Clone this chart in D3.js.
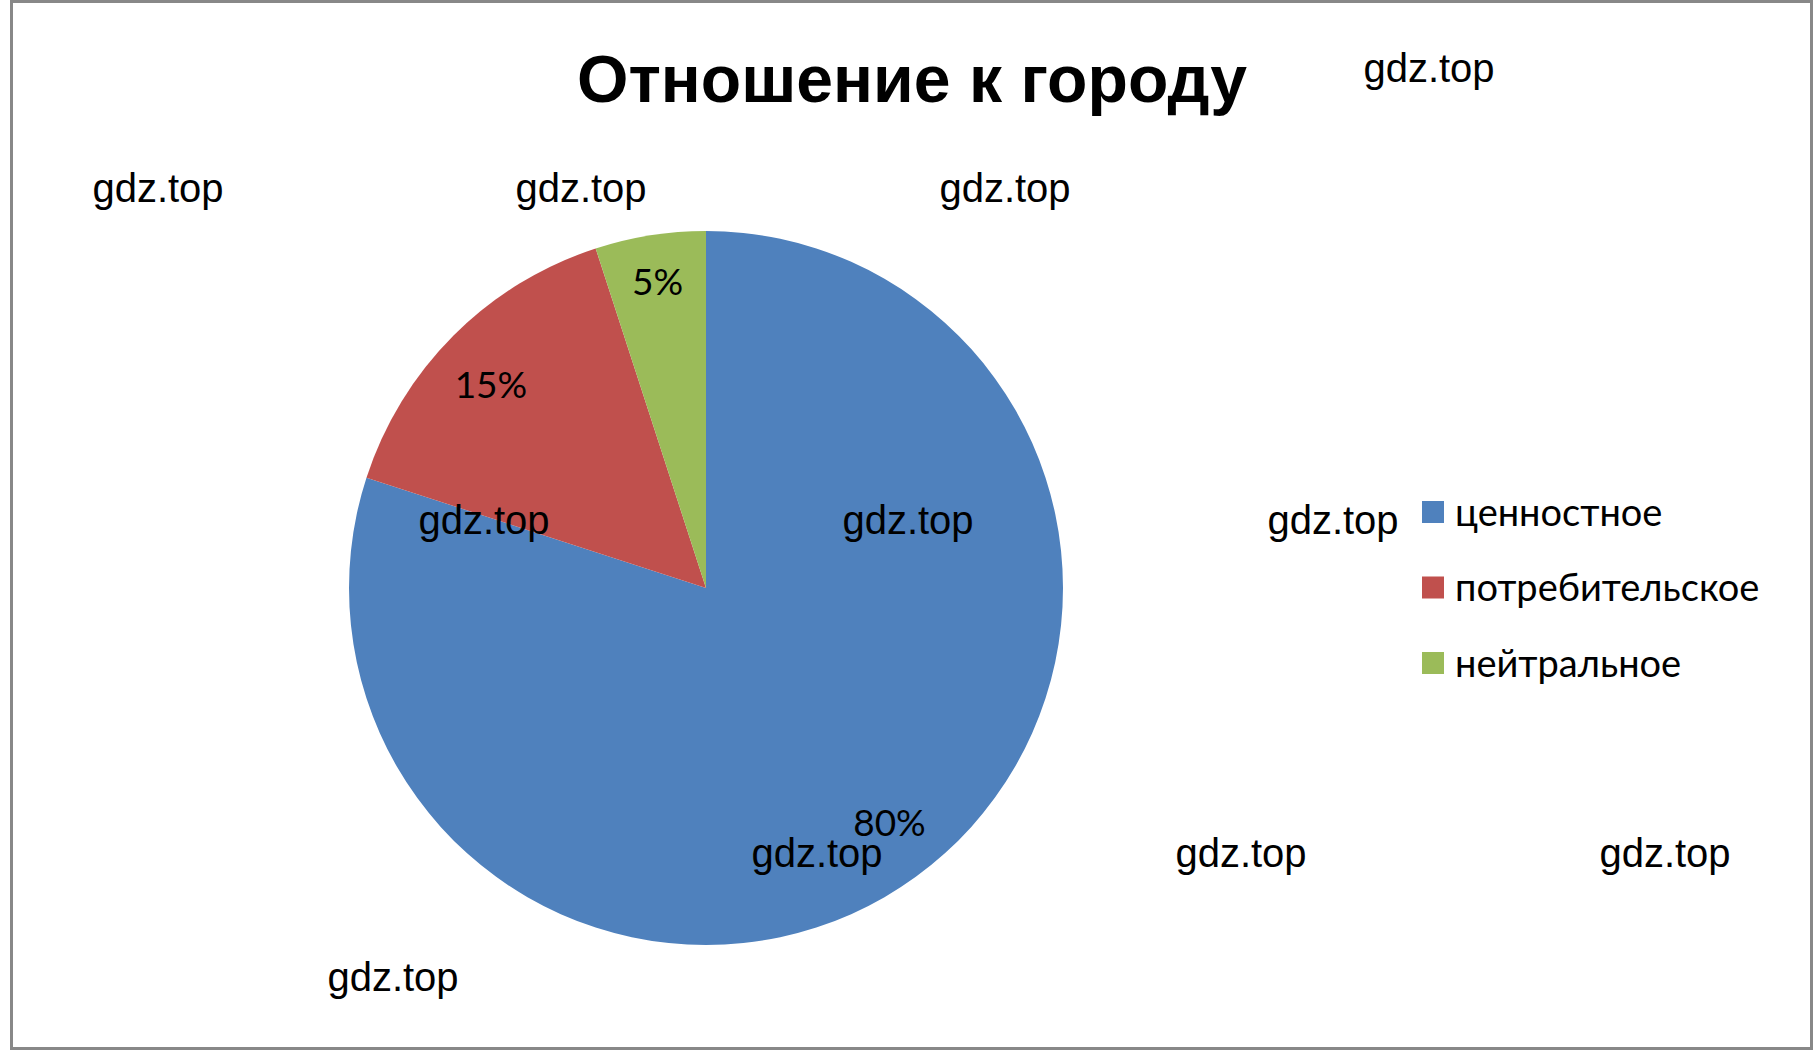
<!DOCTYPE html>
<html><head><meta charset="utf-8">
<script src="https://cdn.jsdelivr.net/npm/d3@7"></script>
<style>html,body{margin:0;padding:0;background:#fff;}</style>
</head><body>
<script>
const categories = ["ценностное", "потребительское", "нейтральное"];
const values = [80, 15, 5];
const colors = ["#4F81BD", "#C0504D", "#9BBB59"];
const title = "Отношение к городу";
const watermark = "gdz.top";
const watermarkPos = [[1429,68],[158,188],[581,188],[1005,188],[484,520],[908,520],[1333,520],[817,853],[1241,853],[1665,853],[393,977]];

const W = 1817, H = 1052;
const svg = d3.select("body").append("svg").attr("width", W).attr("height", H);
svg.append("rect").attr("x", 11.5).attr("y", 1.5).attr("width", 1800).attr("height", 1047)
  .attr("fill", "#fff").attr("stroke", "#888").attr("stroke-width", 3);

const t = svg.append("text").attr("x", 912).attr("y", 102).attr("text-anchor", "middle")
  .attr("font-family", "Liberation Sans, Arial, sans-serif").attr("font-weight", "bold")
  .attr("font-size", 66).attr("fill", "#000").text(title);
t.attr("textLength", 670).attr("lengthAdjust", "spacingAndGlyphs");

const cx = 706, cy = 588, R = 357;
const pie = d3.pie().sort(null).value(d => d);
const arcs = pie(values);
const arc = d3.arc().innerRadius(0).outerRadius(R);
// label placement (radius, angle shift in degrees) per slice, mimicking best-fit
const labelLayout = [[298, -2], [296, -1.6], [310, 0]];
const g = svg.append("g").attr("transform", `translate(${cx},${cy})`);
g.selectAll("path").data(arcs).join("path").attr("d", arc).attr("fill", (d, i) => colors[i]);
g.selectAll("text.pl").data(arcs).join("text").attr("class", "pl")
  .attr("transform", (d, i) => {
    const a = (d.startAngle + d.endAngle) / 2 + labelLayout[i][1] * Math.PI / 180;
    const r = labelLayout[i][0];
    return `translate(${r * Math.sin(a)},${-r * Math.cos(a)})`;
  })
  .attr("text-anchor", "middle").attr("dy", "0.36em")
  .attr("font-family", "Lato, sans-serif").attr("font-size", 37).attr("fill", "#000")
  .text(d => d.data + "%");

const leg = svg.append("g");
const ly = d3.scalePoint().domain(categories).range([512, 663]);
categories.forEach((c, i) => {
  leg.append("rect").attr("x", 1422).attr("y", ly(c) - 11).attr("width", 22).attr("height", 22).attr("fill", colors[i]);
  leg.append("text").attr("x", 1455).attr("y", ly(c)).attr("dy", "0.36em")
    .attr("font-family", "Lato, sans-serif").attr("font-size", 38).attr("fill", "#000").text(c);
});

svg.selectAll("text.wm").data(watermarkPos).join("text").attr("class", "wm")
  .attr("x", d => d[0]).attr("y", d => d[1]).attr("dy", "0.35em").attr("text-anchor", "middle")
  .attr("font-family", "Liberation Sans, Arial, sans-serif").attr("font-size", 40).attr("fill", "#000")
  .text(watermark);
</script>
</body></html>
